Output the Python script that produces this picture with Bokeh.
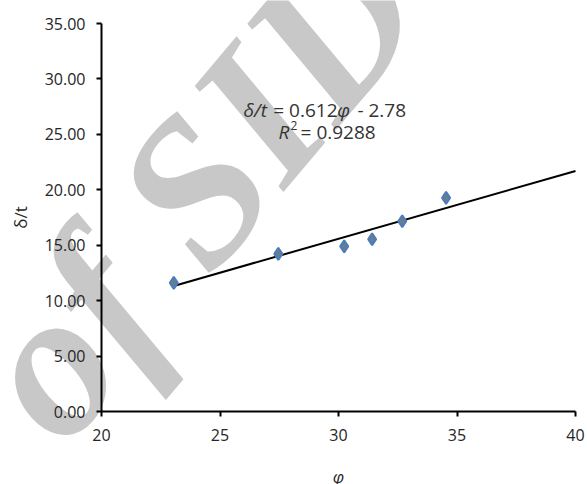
from bokeh.plotting import figure
from bokeh.models import Range1d, FixedTicker, PrintfTickFormatter, Label
from bokeh.embed import file_html
from bokeh.resources import INLINE

# ---- data ----
phi = [23.05, 27.46, 30.24, 31.42, 32.69, 34.54]
delta_t = [11.6, 14.22, 14.9, 15.54, 17.16, 19.27]
slope = 0.612
intercept = -2.78
trend_x = [23.05, 40.0]
trend_y = [slope * v + intercept for v in trend_x]
x_ticks = [20, 25, 30, 35, 40]
y_ticks = [0, 5, 10, 15, 20, 25, 30, 35]
x_lim = (20, 40)
y_lim = (0, 35)

FONT = "Open Sans"
TXT = "#262626"

W, H = 587, 484
L, R, T, B = 101, 12, 23, 73
xs = (x_lim[1] - x_lim[0]) / (W - L - R)
ys = (y_lim[1] - y_lim[0]) / (H - T - B)

p = figure(width=W, height=H, output_backend="svg", toolbar_location=None,
           x_range=Range1d(x_lim[0] - L * xs, x_lim[1] + R * xs),
           y_range=Range1d(y_lim[0] - B * ys, y_lim[1] + T * ys),
           min_border=0, min_border_left=0, min_border_right=0,
           min_border_top=0, min_border_bottom=0)
p.outline_line_color = None
p.xgrid.visible = False
p.ygrid.visible = False
p.background_fill_color = "white"
p.border_fill_color = "white"

# watermark
wm = Label(x=16.2, y=0.5, text="of SID", text_font="Liberation Serif", text_font_style="bold italic",
           text_font_size="208px", text_color="#c8c8c8", angle=0.87, level="underlay",
           text_align="left", text_baseline="alphabetic")
p.add_layout(wm)

for ax in (p.xaxis[0], p.yaxis[0]):
    ax.axis_line_color = "black"
    ax.axis_line_width = 2
    ax.major_tick_line_color = "black"
    ax.major_tick_line_width = 2
    ax.major_tick_in = 0
    ax.major_tick_out = 5
    ax.minor_tick_line_color = None
    ax.major_label_text_font = FONT
    ax.major_label_text_font_size = "16px"
    ax.major_label_text_color = TXT

p.xaxis.fixed_location = y_lim[0]
p.yaxis.fixed_location = x_lim[0]
p.xaxis.bounds = x_lim
p.yaxis.bounds = y_lim
p.xaxis.ticker = FixedTicker(ticks=x_ticks)
p.yaxis.ticker = FixedTicker(ticks=y_ticks)
p.yaxis.formatter = PrintfTickFormatter(format="%.2f")
p.xaxis.major_label_standoff = 12
p.yaxis.major_label_standoff = 11

p.yaxis.axis_label = "δ/t"
p.yaxis.axis_label_text_font = FONT
p.yaxis.axis_label_text_font_style = "normal"
p.yaxis.axis_label_text_font_size = "17px"
p.yaxis.axis_label_text_color = TXT
p.yaxis.axis_label_standoff = 10

p.xaxis.axis_label = "φ"
p.xaxis.axis_label_text_font = FONT
p.xaxis.axis_label_text_font_style = "italic"
p.xaxis.axis_label_text_font_size = "17px"
p.xaxis.axis_label_text_color = TXT
p.xaxis.axis_label_standoff = 21

# trend line and points
p.line(trend_x, trend_y, line_color="black", line_width=2)
p.scatter(phi, delta_t, marker="diamond", size=12, fill_color="#6b7b90",
          line_color="#4a7ebb", line_width=2)

# equation
EQ = "19px"
segs = [
    (25.99, 27.24, "δ/t", "italic", EQ),
    (27.25, 27.24, "= 0.612", "normal", EQ),
    (29.95, 27.24, "φ", "italic", EQ),
    (30.80, 27.24, "- 2.78", "normal", EQ),
    (27.47, 25.17, "R", "italic", EQ),
    (27.97, 25.80, "2", "normal", "12px"),
    (28.40, 25.17, "= 0.9288", "normal", EQ),
]
for sx, sy, s, st, fs in segs:
    p.add_layout(Label(x=sx, y=sy, text=s, text_font=FONT, text_font_style=st,
                       text_font_size=fs, text_color="#333333",
                       text_align="left", text_baseline="alphabetic"))

open("out.html", "w").write(file_html(p, INLINE))
